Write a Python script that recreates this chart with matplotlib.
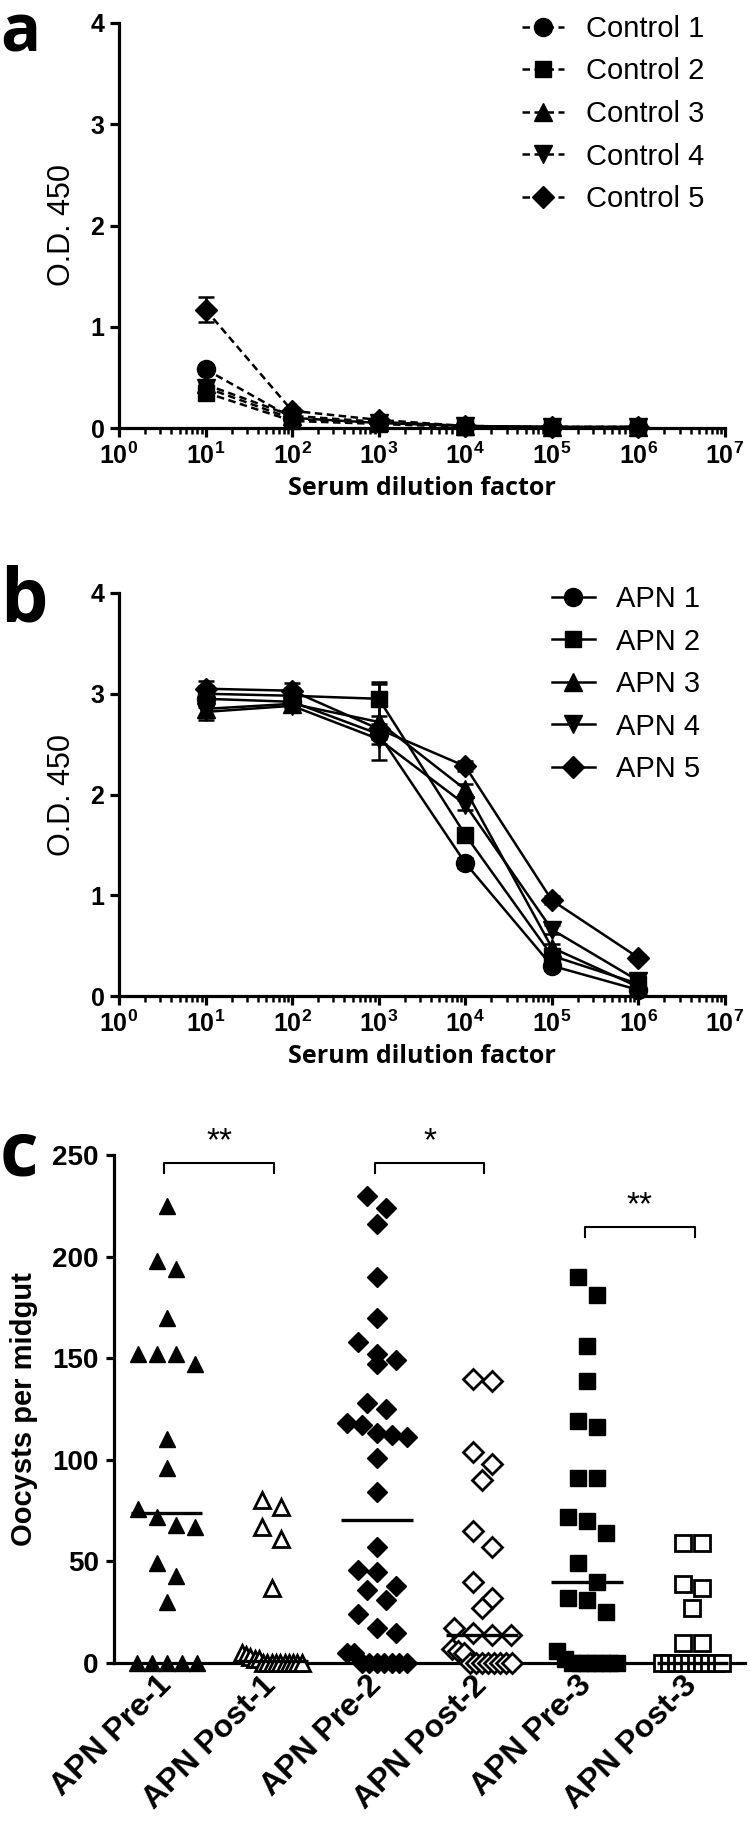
import matplotlib
matplotlib.use('Agg')
import matplotlib.pyplot as plt
import matplotlib.ticker as ticker
import numpy as np

plt.rcParams['font.family'] = ['Liberation Sans', 'DejaVu Sans']
plt.rcParams['mathtext.fontset'] = 'custom'
plt.rcParams['mathtext.rm'] = 'Liberation Sans:bold'
plt.rcParams['mathtext.bf'] = 'Liberation Sans:bold'

# ---- panel a / b : ELISA titration ----
dilution = [1e1, 1e2, 1e3, 1e4, 1e5, 1e6]

control_names = ['Control 1', 'Control 2', 'Control 3', 'Control 4', 'Control 5']
control_od = [
    [0.58, 0.10, 0.05, 0.02, 0.01, 0.01],
    [0.35, 0.07, 0.04, 0.01, 0.01, 0.01],
    [0.43, 0.12, 0.06, 0.02, 0.01, 0.01],
    [0.40, 0.09, 0.05, 0.02, 0.01, 0.01],
    [1.17, 0.17, 0.08, 0.02, 0.01, 0.01],
]
control_err = [
    [0.04, 0.02, 0.01, 0.0, 0.0, 0.0],
    [0.03, 0.02, 0.01, 0.0, 0.0, 0.0],
    [0.03, 0.02, 0.01, 0.0, 0.0, 0.0],
    [0.03, 0.02, 0.01, 0.0, 0.0, 0.0],
    [0.12, 0.03, 0.02, 0.0, 0.0, 0.0],
]

apn_names = ['APN 1', 'APN 2', 'APN 3', 'APN 4', 'APN 5']
apn_od = [
    [2.95, 2.92, 2.60, 1.32, 0.30, 0.06],
    [3.00, 2.98, 2.95, 1.60, 0.40, 0.12],
    [2.85, 2.90, 2.72, 2.05, 0.48, 0.09],
    [2.82, 2.88, 2.55, 1.90, 0.66, 0.15],
    [3.05, 3.03, 2.65, 2.28, 0.95, 0.38],
]
apn_err = [
    [0.08, 0.06, 0.05, 0.05, 0.04, 0.02],
    [0.08, 0.08, 0.17, 0.05, 0.04, 0.03],
    [0.08, 0.08, 0.38, 0.05, 0.04, 0.02],
    [0.08, 0.06, 0.05, 0.05, 0.04, 0.02],
    [0.08, 0.08, 0.05, 0.05, 0.04, 0.03],
]

# ---- panel c : oocyst counts ----
groups = ['APN Pre-1', 'APN Post-1', 'APN Pre-2', 'APN Post-2', 'APN Pre-3', 'APN Post-3']
pre1 = [225, 198, 194, 170, 152, 152, 152, 147, 110, 96, 76, 72, 68, 67, 49, 43, 30,
        0, 0, 0, 0, 0]
post1 = [80, 77, 67, 61, 37, 5, 4, 3, 2, 2, 0, 0, 0, 0, 0, 0, 0, 0, 0, 0]
pre2 = [230, 224, 216, 190, 170, 158, 152, 149, 147, 128, 125, 118, 117, 113, 112, 111,
        101, 84, 57, 46, 45, 38, 36, 31, 24, 17, 15, 5, 5, 0, 0, 0, 0, 0, 0, 0]
post2 = [140, 139, 104, 98, 90, 65, 57, 40, 32, 27, 17, 15, 14, 14, 7, 6, 5,
         0, 0, 0, 0, 0, 0, 0, 0]
pre3 = [190, 181, 156, 139, 119, 116, 91, 91, 72, 70, 64, 49, 40, 32, 31, 25, 6,
        2, 0, 0, 0, 0, 0, 0, 0]
post3 = [59, 59, 39, 37, 27, 10, 10, 0, 0, 0, 0, 0, 0, 0, 0, 0, 0]
counts = [pre1, post1, pre2, post2, pre3, post3]
comparisons = [(0, 1, '**'), (2, 3, '*'), (4, 5, '**')]

markers = ['o', 's', '^', 'v', 'D']
msizes = [13, 11, 13, 13, 11]


def style_axis(ax):
    for s in ['top', 'right']:
        ax.spines[s].set_visible(False)
    for s in ['left', 'bottom']:
        ax.spines[s].set_linewidth(2.3)


def od_panel(ax, names, od, err, ls, legend_x):
    for name, y, e, m, ms in zip(names, od, err, markers, msizes):
        ax.errorbar(dilution, y, yerr=e, fmt='none', ecolor='k', elinewidth=1.8,
                    capsize=6, capthick=1.8, clip_on=False, zorder=3)
        ax.plot(dilution, y, ls=ls, color='k', lw=1.8, marker=m, ms=ms, mfc='k', mec='k',
                label=name, clip_on=False, zorder=4)
    style_axis(ax)
    ax.set_xscale('log')
    ax.set_xlim(1, 1e7)
    ax.set_ylim(0, 4)
    ax.set_yticks([0, 1, 2, 3, 4])
    ax.xaxis.set_major_locator(ticker.FixedLocator(10.0 ** np.arange(8)))
    ax.xaxis.set_major_formatter(ticker.FixedFormatter(
        [r'$\mathbf{10^{%d}}$' % k for k in range(8)]))
    ax.xaxis.set_minor_locator(ticker.LogLocator(base=10, subs=np.arange(2, 10), numticks=20))
    ax.xaxis.set_minor_formatter(ticker.NullFormatter())
    ax.tick_params(axis='both', which='major', direction='out', length=6.5, width=2.3,
                   labelsize=18, pad=4)
    ax.tick_params(axis='x', which='minor', direction='out', length=4, width=1.8)
    for lbl in ax.get_yticklabels():
        lbl.set_fontweight('bold')
    ax.set_ylabel('O.D. 450', fontsize=22)
    ax.yaxis.set_label_coords(-0.07, 0.5)
    ax.set_xlabel('Serum dilution factor', fontsize=18, fontweight='bold',
                  family=['Open Sans', 'DejaVu Sans'], labelpad=5)
    ax.legend(loc='upper left', bbox_to_anchor=(legend_x, 1.02), frameon=False,
              fontsize=21, handlelength=1.45, handletextpad=0.75, labelspacing=0.5,
              borderpad=0, borderaxespad=0)


def swarm(vals, ppx, ppy, size_px, max_half_px, row_px):
    vals = np.asarray(vals, float)
    order = np.argsort(-vals, kind='stable')
    offs = np.zeros(len(vals))
    rows = []
    for i in order:
        if rows and (vals[rows[-1][0]] - vals[i]) * ppy < row_px:
            rows[-1].append(i)
        else:
            rows.append([i])
    for row in rows:
        n = len(row)
        if n == 1:
            continue
        step = min(size_px, 2 * max_half_px / (n - 1))
        for k, i in enumerate(row):
            offs[i] = (k - (n - 1) / 2) * step / ppx
    return offs


fig = plt.figure(figsize=(7.5, 18.28), dpi=100)
W, H = 750, 1828

ax_a = fig.add_axes([119 / W, 1 - 428 / H, 606 / W, 405 / H])
od_panel(ax_a, control_names, control_od, control_err, (0, (3, 1.8)), 0.665)

ax_b = fig.add_axes([119 / W, 1 - 996 / H, 606 / W, 403 / H])
od_panel(ax_b, apn_names, apn_od, apn_err, '-', 0.715)

ax_c = fig.add_axes([114 / W, 1 - 1663 / H, 631 / W, 508 / H])
style_axis(ax_c)
ax_c.set_xlim(-0.5, 5.5)
ax_c.set_ylim(0, 250)
ax_c.set_yticks([0, 50, 100, 150, 200, 250])
ax_c.set_xticks(range(len(groups)))
ax_c.set_xticklabels(groups, rotation=45, ha='right', va='center', rotation_mode='anchor')
ax_c.tick_params(axis='both', direction='out', length=6, width=2.3, labelsize=20, pad=5)
ax_c.tick_params(axis='x', pad=7, labelsize=23)
for lbl in ax_c.get_xticklabels() + ax_c.get_yticklabels():
    lbl.set_fontweight('bold')
ax_c.set_ylabel('Oocysts per midgut', fontsize=21, fontweight='bold')
ax_c.yaxis.set_label_coords(-0.12, 0.5)

ppx = 631 / 6.0
ppy = 508 / 250.0
c_markers = ['^', '^', 'D', 'D', 's', 's']
c_sizes = [12, 12, 10, 10, 11.5, 11.5]
c_filled = [True, False, True, False, True, False]
for i, vals in enumerate(counts):
    offs = swarm(vals, ppx, ppy, 19, 30, 19)
    ax_c.plot(i + offs, vals, ls='none', marker=c_markers[i], ms=c_sizes[i],
              mfc='k' if c_filled[i] else 'w', mec='k', mew=1.0 if c_filled[i] else 2.0,
              clip_on=False, zorder=3)
    med = np.median(vals)
    ax_c.plot([i - 0.34, i + 0.34], [med, med], color='k', lw=2.4,
              solid_capstyle='butt', zorder=4, clip_on=False)

bracket_y = [246, 246, 214.6]
for (i, j, star), y in zip(comparisons, bracket_y):
    ax_c.plot([i - 0.02, i - 0.02, j + 0.02, j + 0.02], [y - 5, y, y, y - 5], color='k',
              lw=1.5, clip_on=False)
    ax_c.text((i + j) / 2, y + 3, star, ha='center', va='bottom', fontsize=24,
              clip_on=False)

for letter, ybase, size in [('a', 51, 48), ('b', 622, 54), ('c', 1176, 54)]:
    fig.text(0.0, 1 - ybase / H, letter, fontsize=size, fontweight='bold',
             family=['Open Sans', 'DejaVu Sans'], ha='left', va='baseline')

fig.savefig('out.png', dpi=100)
